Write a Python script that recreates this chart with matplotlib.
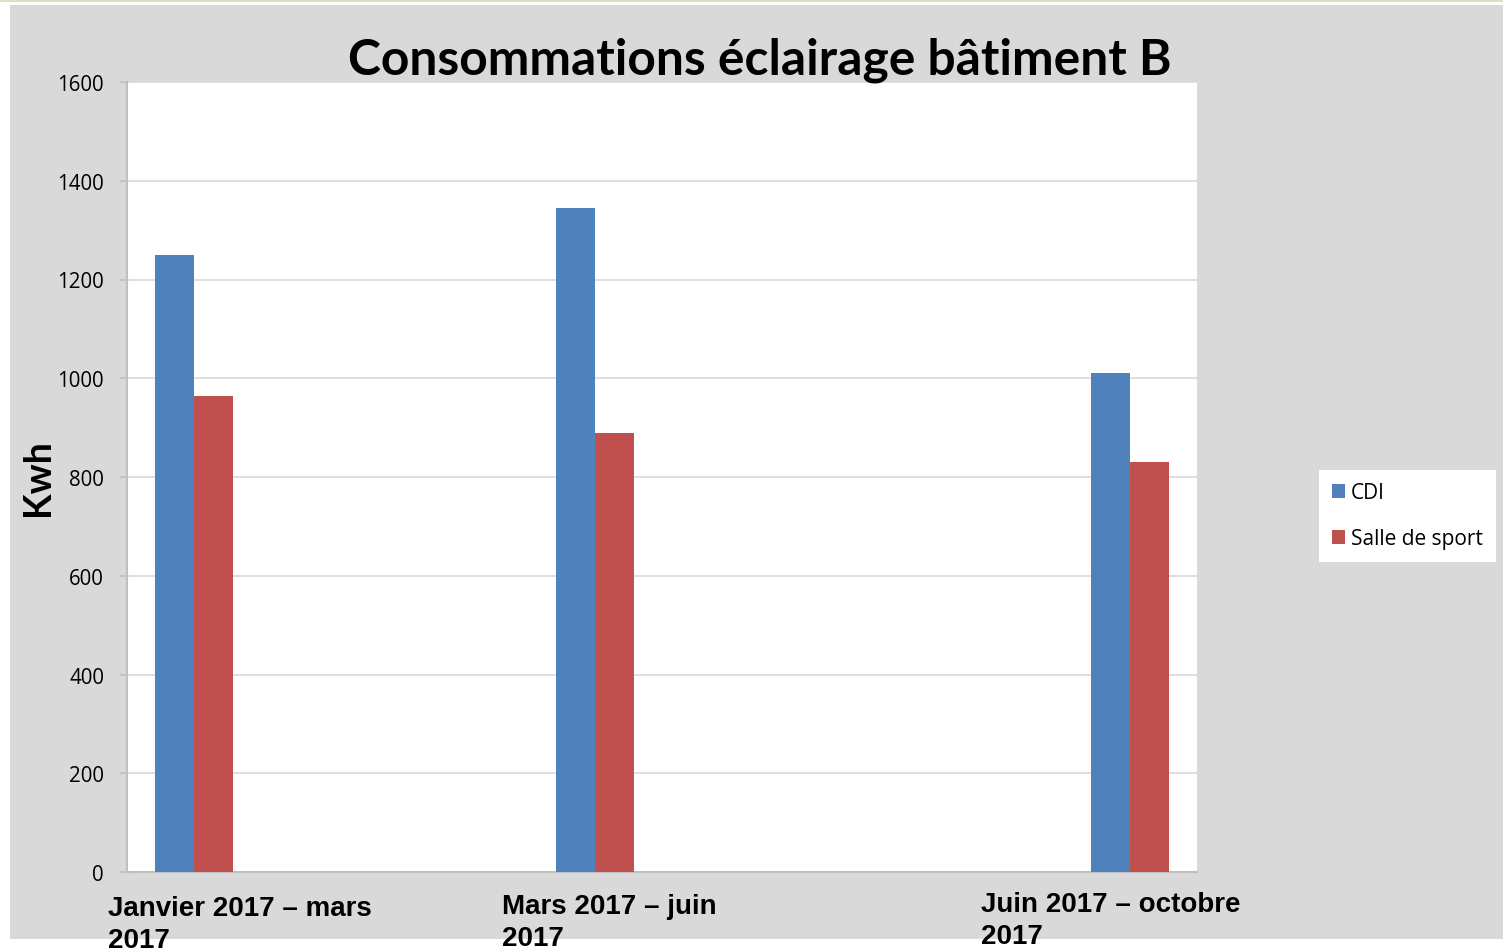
import matplotlib.pyplot as plt
from matplotlib.patches import Rectangle, Patch

# data
periods = ["Janvier 2017 \u2013 mars\n2017",
           "Mars 2017 \u2013 juin\n2017",
           "Juin 2017 \u2013 octobre\n2017"]
cdi = [1250, 1345, 1010]
salle_sport = [965, 890, 830]
yticks = [0, 200, 400, 600, 800, 1000, 1200, 1400, 1600]

# layout (the original spacing of the groups is uneven)
group_x = [0.0626, 0.4374, 0.9374]
bar_w = 0.036
label_px = [(108, 896), (502, 894), (981, 892)]

W, H = 1503, 953
fig = plt.figure(figsize=(W / 100, H / 100), dpi=100)
fig.patch.set_facecolor("white")

# gray chart area and thin top line
fig.patches.append(Rectangle((10 / W, 1 - 940 / H), (W - 10) / W, (940 - 6) / H,
                             transform=fig.transFigure, facecolor="#d9d9d9",
                             edgecolor="none", zorder=-10))
fig.patches.append(Rectangle((0, 1 - 3 / H), 1, 2 / H, transform=fig.transFigure,
                             facecolor="#d7e4bd", edgecolor="none", zorder=-10))

ax = fig.add_axes([127 / W, 1 - 873 / H, 1070 / W, 790 / H])
ax.set_facecolor("white")

ax.bar([x - bar_w / 2 for x in group_x], cdi, width=bar_w,
       color="#4f81bd", zorder=3)
ax.bar([x + bar_w / 2 for x in group_x], salle_sport, width=bar_w,
       color="#c0504d", zorder=3)

ax.set_xlim(0, 1)
ax.set_ylim(0, 1600)
ax.set_yticks(yticks)
ax.set_yticklabels([str(v) for v in yticks], fontfamily="Open Sans", fontsize=14.8)
ax.set_xticks([])
ax.yaxis.grid(True, color="#d9d9d9", linewidth=1.2, zorder=0)
ax.tick_params(axis="y", length=5, width=1.2, color="#bfbfbf", pad=11.5)
for side in ["top", "right"]:
    ax.spines[side].set_visible(False)
for side in ["left", "bottom"]:
    ax.spines[side].set_color("#bfbfbf")
    ax.spines[side].set_linewidth(1.5)

ax.set_ylabel("Kwh", fontfamily="Lato", fontweight="bold", fontsize=27)
ax.yaxis.set_label_coords(-0.0673, 0.5)

fig.text(760 / W, 1 - 60 / H, "Consommations \u00e9clairage b\u00e2timent B",
         ha="center", va="center", fontfamily="Lato", fontweight="bold", fontsize=35.8)

for (px, py), lab in zip(label_px, periods):
    fig.text(px / W, 1 - py / H, lab, ha="left", va="top",
             fontfamily="Liberation Sans", fontweight="bold", fontsize=20,
             linespacing=1.28)

handles = [Patch(facecolor="#4f81bd", label="CDI"),
           Patch(facecolor="#c0504d", label="Salle de sport")]
leg = fig.legend(handles=handles, loc="center left",
                 bbox_to_anchor=(1319 / W, 1 - 517 / H),
                 prop={"family": "Open Sans", "size": 15},
                 frameon=True, fancybox=False, edgecolor="white", framealpha=1,
                 handlelength=0.62, handleheight=0.62, handletextpad=0.3,
                 labelspacing=1.2, borderpad=0.62, borderaxespad=0)
leg.get_frame().set_linewidth(0)

fig.savefig("out.png", dpi=100)
